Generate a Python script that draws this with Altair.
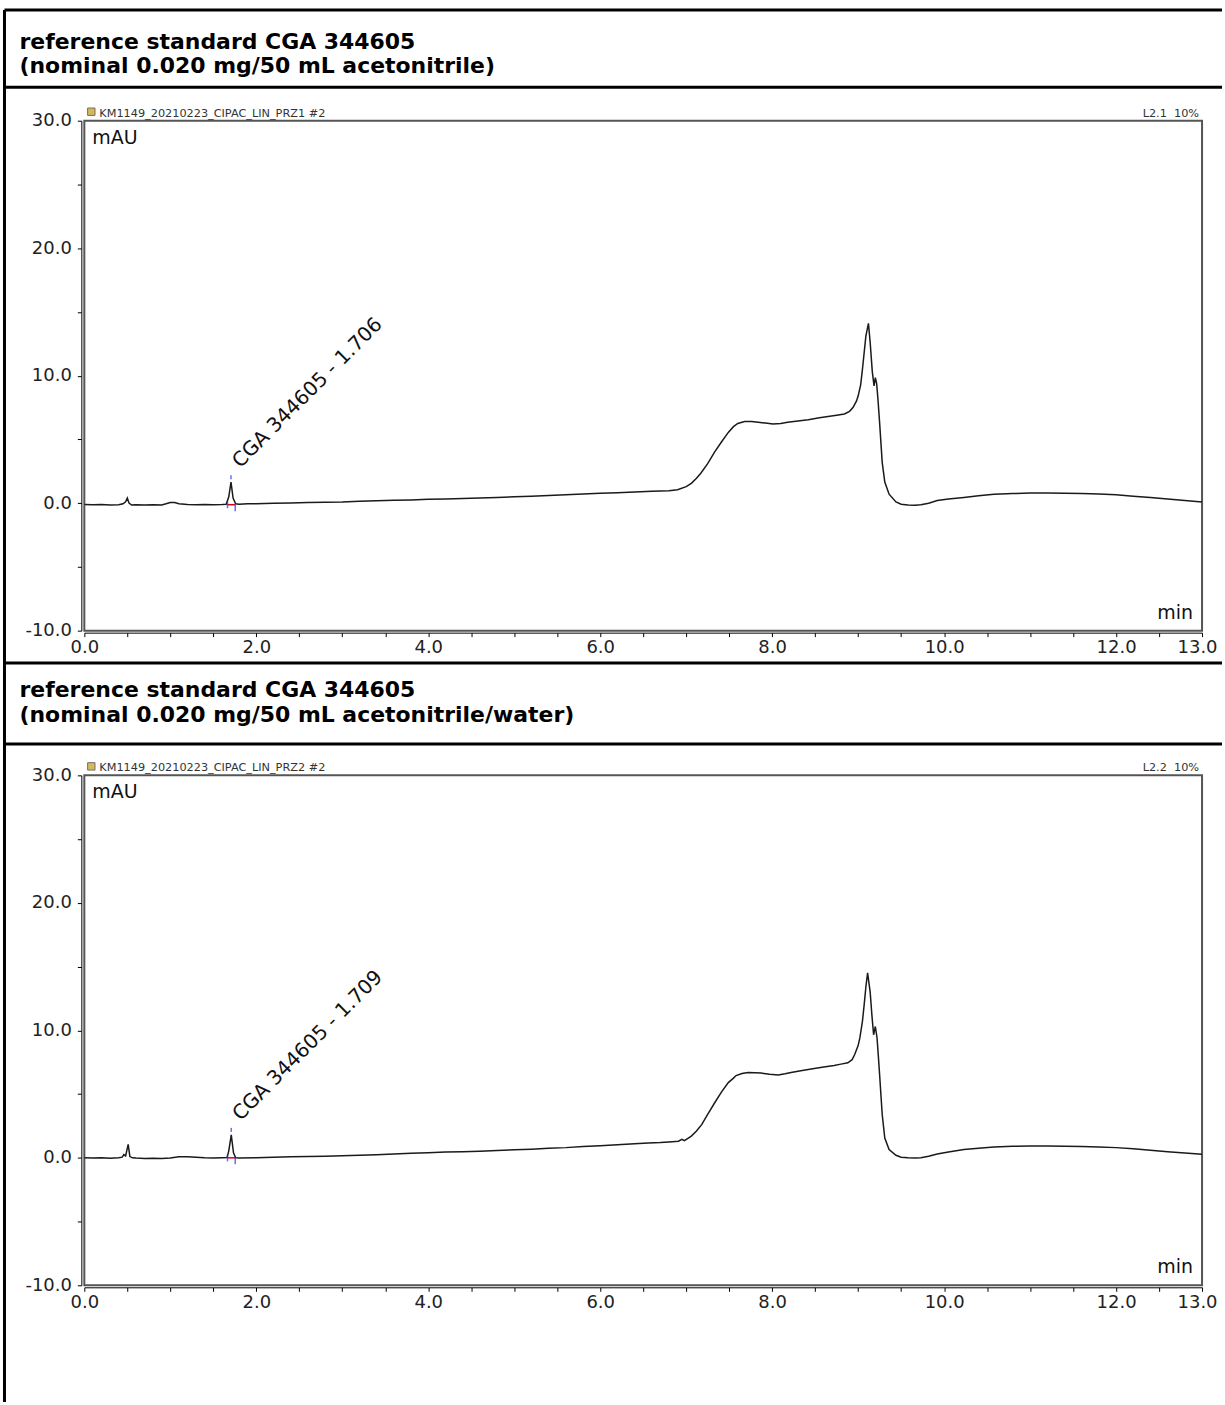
import altair as alt
import pandas as pd

# ---- chromatogram 1: CGA 344605 in acetonitrile ----
t1 = [0.00, 0.10, 0.20, 0.30, 0.40, 0.45, 0.48, 0.50, 0.52, 0.55, 0.60, 0.70, 0.80, 0.90,
      0.95, 1.00, 1.05, 1.10, 1.20, 1.30, 1.40, 1.50, 1.60, 1.65, 1.68, 1.706, 1.73, 1.76,
      1.80, 1.90, 2.00, 2.20, 2.40, 2.60, 2.80, 3.00, 3.20, 3.40, 3.60, 3.80, 4.00, 4.20,
      4.40, 4.60, 4.80, 5.00, 5.20, 5.40, 5.60, 5.80, 6.00, 6.20, 6.40, 6.60, 6.80, 6.90,
      7.00, 7.06, 7.12, 7.17, 7.25, 7.33, 7.41, 7.49, 7.55, 7.60, 7.68, 7.76, 7.84, 7.92,
      8.01, 8.10, 8.18, 8.30, 8.42, 8.55, 8.65, 8.75, 8.84, 8.90, 8.94, 8.98, 9.00, 9.03,
      9.05, 9.07, 9.09, 9.12, 9.14, 9.165, 9.185, 9.20, 9.215, 9.23, 9.25, 9.28, 9.31,
      9.36, 9.44, 9.50, 9.58, 9.66, 9.73, 9.82, 9.92, 10.05, 10.23, 10.40, 10.58, 10.80,
      11.00, 11.20, 11.40, 11.60, 11.80, 12.00, 12.20, 12.40, 12.60, 12.80, 13.00]
v1 = [-0.10, -0.12, -0.10, -0.15, -0.12, -0.05, 0.10, 0.40, 0.00, -0.15, -0.12, -0.15,
      -0.12, -0.14, -0.05, 0.05, 0.05, -0.05, -0.10, -0.12, -0.10, -0.12, -0.10, -0.08,
      0.50, 1.65, 0.40, -0.05, -0.08, -0.05, -0.05, 0.00, 0.02, 0.05, 0.08, 0.10, 0.15,
      0.18, 0.22, 0.25, 0.30, 0.32, 0.36, 0.40, 0.45, 0.50, 0.55, 0.60, 0.65, 0.72, 0.78,
      0.82, 0.88, 0.93, 0.98, 1.05, 1.30, 1.55, 1.95, 2.35, 3.10, 4.00, 4.80, 5.55, 6.00,
      6.25, 6.40, 6.40, 6.35, 6.28, 6.20, 6.25, 6.35, 6.45, 6.55, 6.70, 6.80, 6.90, 7.00,
      7.20, 7.50, 8.00, 8.40, 9.30, 10.50, 11.80, 13.10, 14.10, 12.60, 10.30, 9.20, 9.85,
      9.40, 8.20, 6.30, 3.20, 1.65, 0.70, 0.10, -0.08, -0.15, -0.16, -0.13, 0.00, 0.20,
      0.32, 0.45, 0.58, 0.70, 0.75, 0.80, 0.80, 0.78, 0.75, 0.72, 0.65, 0.55, 0.45, 0.32,
      0.20, 0.10]

# ---- chromatogram 2: CGA 344605 in acetonitrile/water ----
t2 = [0.00, 0.10, 0.20, 0.30, 0.40, 0.44, 0.46, 0.48, 0.51, 0.53, 0.56, 0.60, 0.70, 0.80,
      0.90, 1.00, 1.10, 1.20, 1.30, 1.40, 1.50, 1.60, 1.66, 1.68, 1.709, 1.735, 1.76, 1.80,
      2.00, 2.20, 2.40, 2.60, 2.80, 3.00, 3.20, 3.40, 3.60, 3.80, 4.00, 4.20, 4.40, 4.60,
      4.80, 5.00, 5.20, 5.40, 5.60, 5.80, 6.00, 6.20, 6.40, 6.56, 6.70, 6.80, 6.91, 6.95,
      6.98, 7.06, 7.12, 7.18, 7.25, 7.33, 7.41, 7.49, 7.55, 7.58, 7.65, 7.72, 7.80, 7.87,
      7.97, 8.07, 8.15, 8.22, 8.35, 8.49, 8.60, 8.72, 8.80, 8.88, 8.93, 8.96, 9.00, 9.02,
      9.05, 9.07, 9.09, 9.11, 9.14, 9.16, 9.18, 9.20, 9.22, 9.235, 9.25, 9.28, 9.31, 9.36,
      9.44, 9.50, 9.58, 9.66, 9.73, 9.82, 9.92, 10.05, 10.23, 10.40, 10.58, 10.80, 11.00,
      11.20, 11.40, 11.60, 11.80, 12.00, 12.20, 12.40, 12.60, 12.80, 13.00]
v2 = [0.00, -0.02, 0.00, -0.03, 0.00, 0.05, 0.25, 0.15, 1.05, 0.10, 0.00, -0.02, -0.05,
      -0.03, -0.05, -0.02, 0.08, 0.08, 0.05, 0.00, -0.02, 0.00, 0.02, 0.55, 1.80, 0.40,
      0.00, -0.02, 0.00, 0.05, 0.08, 0.10, 0.13, 0.17, 0.20, 0.25, 0.30, 0.35, 0.40, 0.45,
      0.48, 0.52, 0.58, 0.63, 0.68, 0.75, 0.80, 0.88, 0.95, 1.02, 1.10, 1.17, 1.20, 1.25,
      1.30, 1.45, 1.35, 1.70, 2.10, 2.60, 3.40, 4.30, 5.15, 5.90, 6.25, 6.45, 6.62, 6.70,
      6.68, 6.65, 6.55, 6.50, 6.60, 6.70, 6.85, 7.00, 7.12, 7.25, 7.35, 7.45, 7.70, 8.10,
      8.80, 9.40, 10.70, 12.00, 13.40, 14.50, 13.00, 11.20, 9.65, 10.30, 9.40, 8.00, 6.50,
      3.40, 1.55, 0.65, 0.20, 0.05, 0.00, -0.02, 0.00, 0.12, 0.30, 0.45, 0.65, 0.75, 0.85,
      0.90, 0.92, 0.92, 0.90, 0.88, 0.85, 0.80, 0.72, 0.60, 0.48, 0.38, 0.28]

# integrated peak: retention time, apex, start/end of integration
peak_rt = [1.706, 1.709]
peak_apex = [1.65, 1.80]
peak_start = [1.665, 1.665]
peak_end = [1.755, 1.755]
peak_base = [-0.12, 0.0]
compound = "CGA 344605"

titles = [
    ["reference standard CGA 344605", "(nominal 0.020 mg/50 mL acetonitrile)"],
    ["reference standard CGA 344605", "(nominal 0.020 mg/50 mL acetonitrile/water)"],
]
sample_ids = ["KM1149_20210223_CIPAC_LIN_PRZ1 #2", "KM1149_20210223_CIPAC_LIN_PRZ2 #2"]
channels = ["L2.1\u00a0\u00a010%", "L2.2\u00a0\u00a010%"]

x_ticks = [i * 0.5 for i in range(27)]
y_ticks = [-10 + i * 2.5 for i in range(17)]

FONT = "DejaVu Sans"
W, H = 1120, 511

x_scale = alt.Scale(domain=[0, 13], nice=False, zero=False)
y_scale = alt.Scale(domain=[-10, 30], nice=False, zero=False)

x_axis = alt.Axis(
    values=x_ticks, title=None, grid=False, offset=2,
    labelExpr="(datum.value % 2 == 0 || datum.value == 13) ? format(datum.value, '.1f') : ''",
    labelOffset={"condition": {"test": "datum.value == 13", "value": -5},
                 "value": 0},
    tickSize=4, tickColor="black", domainColor="black", domainWidth=1,
    labelFont=FONT, labelFontSize=18, labelColor="#222", labelPadding=2, labelFlush=False,
)
y_axis = alt.Axis(
    values=y_ticks, title=None, grid=False, offset=3,
    labelExpr="datum.value % 10 == 0 ? replace(format(datum.value, '.1f'), '\u2212', '-') : ''",
    tickSize=4, tickColor="black", domainColor="black", domainWidth=1,
    labelFont=FONT, labelFontSize=18, labelColor="#222", labelPadding=6, labelFlush=False,
)

one = pd.DataFrame({"k": [0]})


def txt(text, x, y, size, align="left", weight="normal", color="#111", font=FONT):
    return alt.Chart(one).mark_text(
        text=text, align=align, baseline="alphabetic", font=font, fontSize=size,
        fontWeight=weight, color=color,
    ).encode(x=alt.value(x), y=alt.value(y))


def panel(i, t, v):
    trace = pd.DataFrame({"t": t, "v": v})
    line = alt.Chart(trace).mark_line(color="#1a1a1a", strokeWidth=1.5, clip=True).encode(
        x=alt.X("t:Q", scale=x_scale, axis=x_axis),
        y=alt.Y("v:Q", scale=y_scale, axis=y_axis),
    )
    pk = pd.DataFrame({
        "rt": [peak_rt[i]], "apex": [peak_apex[i]], "start": [peak_start[i]],
        "end": [peak_end[i]], "base": [peak_base[i]],
        "label": [f"{compound} - {peak_rt[i]:.3f}"],
    })
    base = alt.Chart(pk)
    baseline = base.mark_rule(color="#e00000", strokeWidth=1.5).encode(
        x="start:Q", x2="end:Q", y="base:Q")
    tick_start = base.mark_tick(orient="vertical", size=7, thickness=1.5, color="#2b2bff").encode(
        x="start:Q", y="base:Q")
    tick_end = base.mark_tick(orient="vertical", size=7, thickness=1.5, color="#2b2bff").encode(
        x="end:Q", y=alt.Y("base:Q"), yOffset=alt.value(3))
    tick_apex = base.mark_tick(orient="vertical", size=4, thickness=1.5, color="#2b2bff").encode(
        x="rt:Q", y="apex:Q", yOffset=alt.value(-5))
    label = base.mark_text(
        angle=315, align="left", baseline="alphabetic", font=FONT, fontSize=20,
        color="#111", dx=16, dy=-3,
    ).encode(x="rt:Q", y="apex:Q", text="label:N")

    icon = alt.Chart(one).mark_square(size=55, color="#c89a10", stroke="#333", strokeWidth=1).encode(
        x=alt.value(7), y=alt.value(-9))

    layers = [
        line, baseline, tick_start, tick_end, tick_apex, label, icon,
        txt("mAU", 8, 23, 19),
        txt("min", 1111, 499, 19, align="right"),
        txt(sample_ids[i], 15, -4, 11.3, color="#333"),
        txt(channels[i], 1117, -4, 11.3, align="right", color="#333"),
    ]
    return layers


# table frame and section titles (offsets from the first plot's origin)
def hrule(y, x0=-80, x1=1140, w=3):
    return alt.Chart(one).mark_rule(color="black", strokeWidth=w).encode(
        x=alt.value(x0), x2=alt.value(x1), y=alt.value(y))


frame = [
    alt.Chart(one).mark_rule(color="black", strokeWidth=3).encode(
        x=alt.value(-80), y=alt.value(-111), y2=alt.value(1284)),
    hrule(-111), hrule(-33.5), hrule(543.5), hrule(624.5),
    txt(titles[0][0], -65, -72, 22, weight="bold", color="black"),
    txt(titles[0][1], -65, -48, 22, weight="bold", color="black"),
    txt(titles[1][0], -65, 577, 22, weight="bold", color="black"),
    txt(titles[1][1], -65, 603, 22, weight="bold", color="black"),
]

p1 = alt.layer(*(panel(0, t1, v1) + frame)).properties(width=W, height=H)
p2 = alt.layer(*panel(1, t2, v2)).properties(width=W, height=H)

chart = alt.vconcat(p1, p2, spacing=145, bounds="flush").properties(
    padding={"left": 1.5, "top": 5.5, "right": 0, "bottom": 0},
    background="white",
).configure_view(stroke="#555", strokeWidth=2)

chart.save("out.html", embed_options={"renderer": "svg", "actions": False})
